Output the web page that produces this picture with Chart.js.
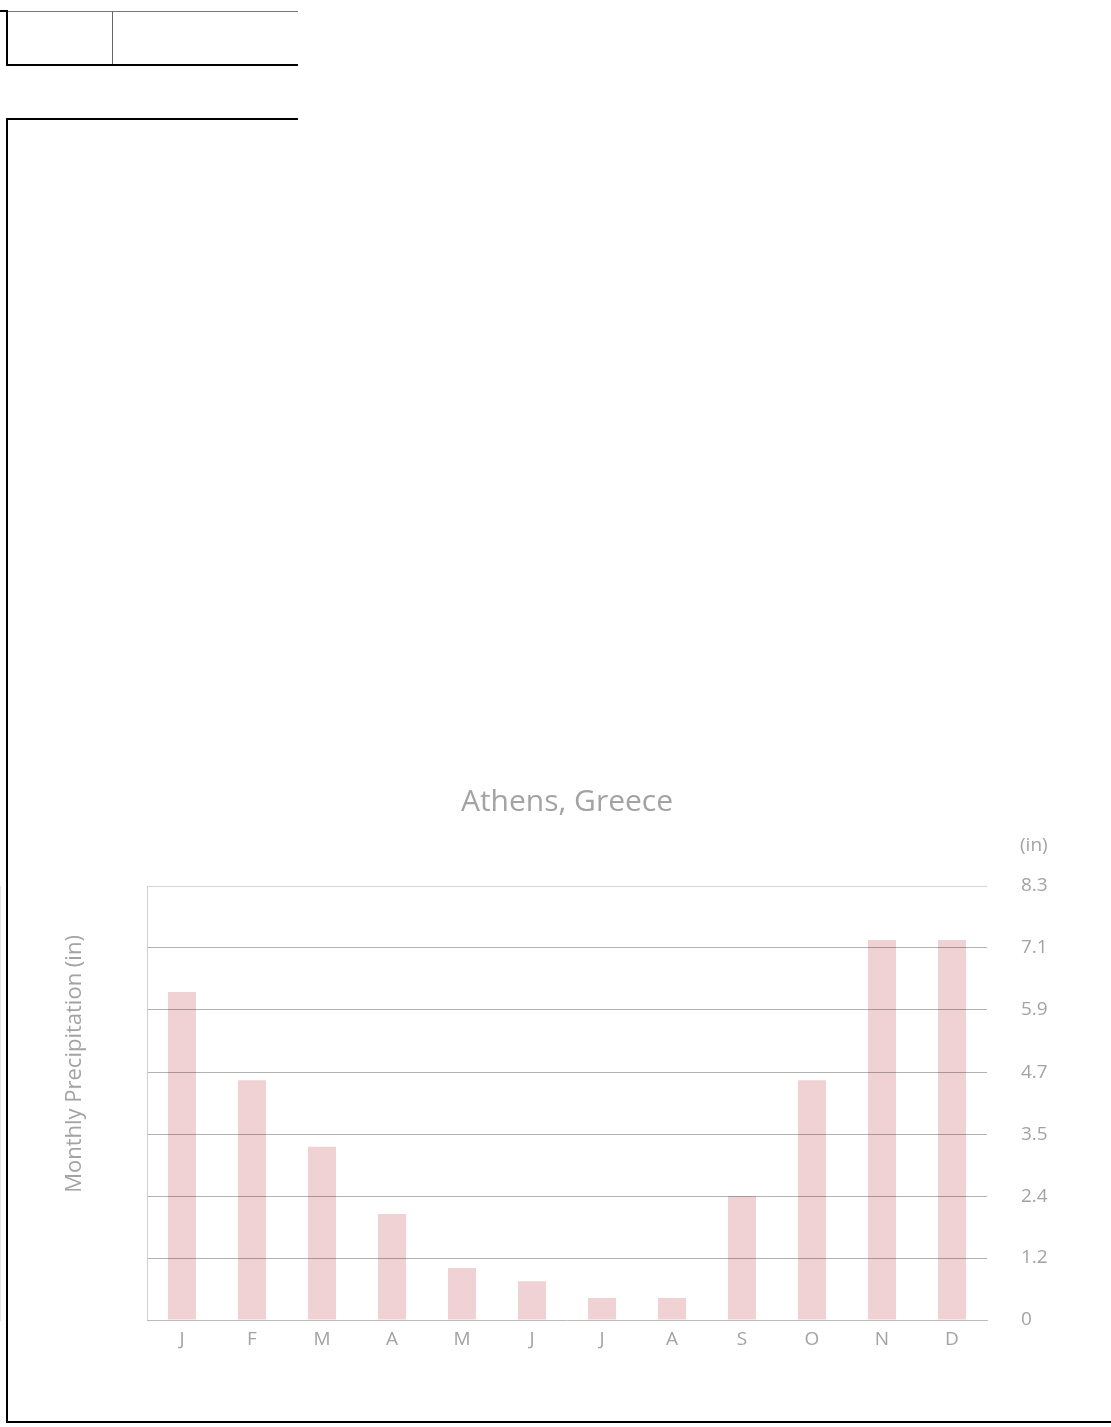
<!DOCTYPE html>
<html>
<head>
<meta charset="utf-8">
<script src="https://cdn.jsdelivr.net/npm/chart.js@4.4.1/dist/chart.umd.min.js"></script>
<style>
  body { margin: 0; background: #fff; width: 1111px; height: 1427px; position: relative; overflow: hidden; }
  .ln { position: absolute; background: #000; }
  #wrap { position: absolute; left: 0; top: 760px; width: 1111px; height: 620px; }
</style>
</head>
<body>
<!-- page frame bits -->
<div class="ln" style="left:0;top:10px;width:7px;height:2px;"></div>
<div class="ln" style="left:6px;top:11px;width:292px;height:1px;background:#777;"></div>
<div class="ln" style="left:6px;top:10px;width:2px;height:56px;"></div>
<div class="ln" style="left:112px;top:11px;width:1px;height:54px;background:#666;"></div>
<div class="ln" style="left:6px;top:64px;width:292px;height:2px;"></div>

<div class="ln" style="left:6px;top:118px;width:292px;height:2px;"></div>
<div class="ln" style="left:6px;top:118px;width:2px;height:1305px;"></div>
<div class="ln" style="left:6px;top:1421px;width:1105px;height:2px;"></div>

<div id="wrap"><canvas id="chart" width="1111" height="620"></canvas></div>

<script>
const months = ['J', 'F', 'M', 'A', 'M', 'J', 'J', 'A', 'S', 'O', 'N', 'D'];
const precipIn = [6.25, 4.57, 3.30, 2.02, 0.99, 0.74, 0.42, 0.42, 2.36, 4.57, 7.24, 7.24];
const tickValues = [0, 1.18, 2.36, 3.54, 4.72, 5.91, 7.09, 8.27];
const tickLabels = ['0', '1.2', '2.4', '3.5', '4.7', '5.9', '7.1', '8.3'];

const textGray = '#a3a3a3';
const font = '"Open Sans", "DejaVu Sans", sans-serif';

// titles and side frame lines
const extras = {
  id: 'extras',
  afterDraw(chart) {
    const { ctx, chartArea } = chart;
    ctx.save();
    ctx.strokeStyle = '#d0d0d0';
    ctx.lineWidth = 1;
    ctx.beginPath();
    ctx.moveTo(chartArea.left + 0.5, chartArea.top);
    ctx.lineTo(chartArea.left + 0.5, chartArea.bottom);
    ctx.stroke();

    ctx.fillStyle = textGray;
    ctx.textAlign = 'center';
    ctx.textBaseline = 'middle';
    ctx.font = '30px ' + font;
    ctx.fillText('Athens, Greece', 567, 42);

    ctx.textAlign = 'left';
    ctx.font = '19px ' + font;
    ctx.fillText('(in)', 1020, 86);

    ctx.translate(75, 304);
    ctx.rotate(-Math.PI / 2);
    ctx.textAlign = 'center';
    ctx.font = '22px ' + font;
    ctx.fillText('Monthly Precipitation (in)', 0, 0);
    ctx.restore();
  }
};

new Chart(document.getElementById('chart'), {
  type: 'bar',
  data: {
    labels: months,
    datasets: [{
      data: precipIn,
      backgroundColor: 'rgb(240, 210, 212)',
      barPercentage: 0.4,
      categoryPercentage: 1.0,
    }]
  },
  options: {
    responsive: false,
    animation: false,
    layout: { padding: { left: 147, right: 0, top: 126, bottom: 0 } },
    plugins: { legend: { display: false }, tooltip: { enabled: false } },
    scales: {
      x: {
        grid: { display: false },
        border: { display: true, color: '#bbbbbb', width: 1 },
        ticks: { color: textGray, font: { family: font, size: 19 }, padding: 0 },
        afterFit: (s) => { s.height = 60; }
      },
      y: {
        position: 'right',
        min: 0,
        max: 8.27,
        afterBuildTicks: (s) => { s.ticks = tickValues.map(v => ({ value: v })); },
        afterFit: (s) => { s.width = 124; },
        grid: {
          z: 1,
          drawTicks: false,
          color: (c) => c.index === tickValues.length - 1 ? 'rgba(0,0,0,0.17)' : (c.index === 0 ? 'rgba(0,0,0,0)' : 'rgba(0,0,0,0.3)'),
        },
        border: { display: true, color: '#d0d0d0', width: 1 },
        ticks: {
          color: textGray,
          font: { family: font, size: 19 },
          padding: 34,
          callback: (v, i) => tickLabels[i]
        }
      }
    }
  },
  plugins: [extras]
});
</script>
</body>
</html>
